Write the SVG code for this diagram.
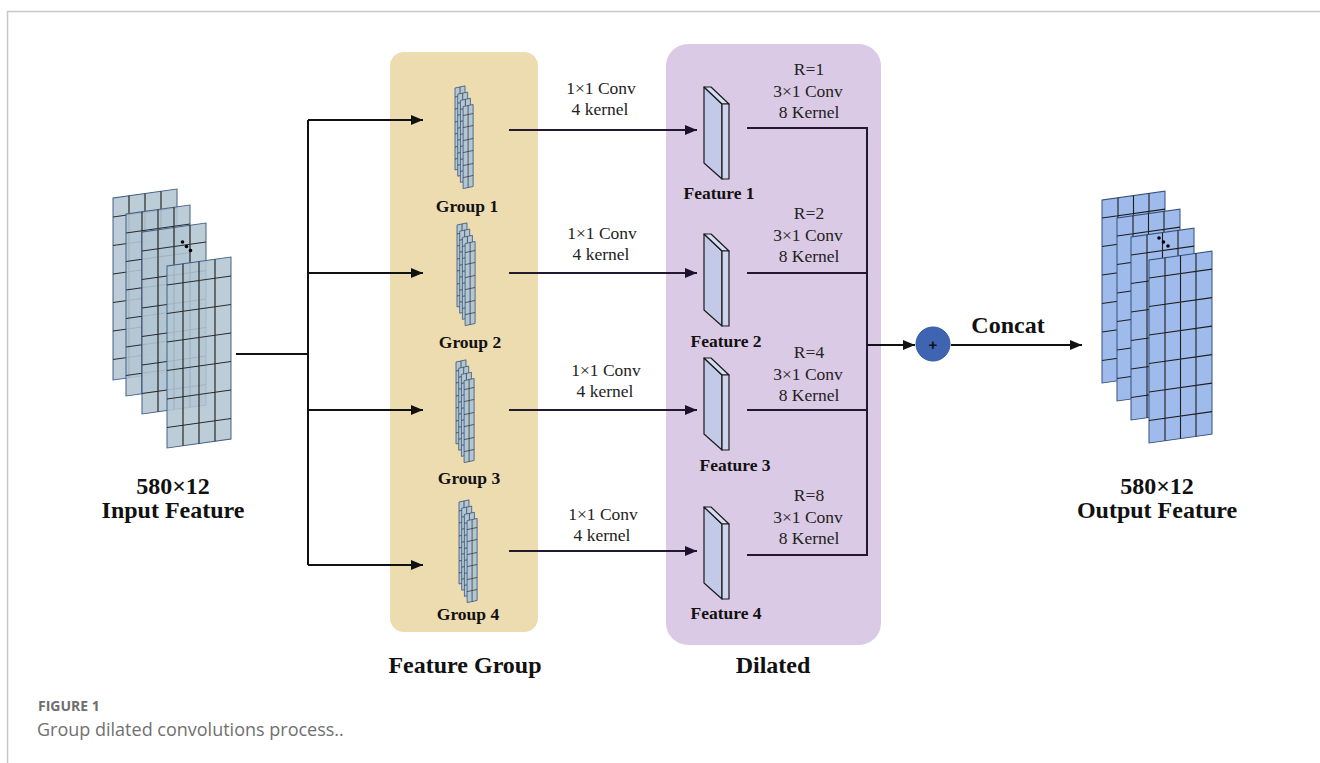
<svg xmlns="http://www.w3.org/2000/svg" width="1320" height="763" viewBox="0 0 1320 763">
<style>
.lbl{font-family:"Liberation Serif","Times New Roman",serif;font-weight:bold;fill:#111;text-anchor:middle}
.big{font-size:24px}
.med{font-size:17.5px}
.reg{font-family:"Liberation Serif","Times New Roman",serif;font-size:17.5px;fill:#222;text-anchor:middle}
.ln{fill:none;stroke:#111;stroke-width:2}
.dl{fill:none;stroke:#22182f;stroke-width:2}
.inS rect{fill:#b3c6d3;fill-opacity:0.88;stroke:#44608a;stroke-width:1}
.inS path{stroke:#2a2a2a;stroke-width:1.2;fill:none}
.outS rect{fill:#9fbbeb;stroke:#34507a;stroke-width:1}
.outS path{stroke:#1e1e1e;stroke-width:1.1;fill:none}
.gS rect{fill:#b3c6d3;stroke:#3d5a80;stroke-width:0.8}
.gS path{stroke:#333;stroke-width:0.7;fill:none}
.slab path{stroke:#1a1a1a;stroke-width:1.2;stroke-linejoin:round}
</style>
<defs>
<marker id="ah" viewBox="0 0 12 10" refX="12" refY="5" markerWidth="12" markerHeight="10" markerUnits="userSpaceOnUse" orient="auto"><path d="M0,0 L12,5 L0,10 z" fill="#111"/></marker>
<marker id="ahd" viewBox="0 0 12 10" refX="12" refY="5" markerWidth="12" markerHeight="10" markerUnits="userSpaceOnUse" orient="auto"><path d="M0,0 L12,5 L0,10 z" fill="#1c1230"/></marker>
<g id="inSheet" class="inS"><rect x="0" y="0" width="64" height="182"/><path d="M16,0V182M32,0V182M48,0V182M0,19H64M0,47.5H64M0,76H64M0,104.5H64M0,133H64M0,161.5H64"/></g>
<g id="outSheet" class="outS"><rect x="0" y="0" width="63" height="183"/><path d="M16,0V183M31.5,0V183M47,0V183M0,18H63M0,46.5H63M0,75H63M0,103.5H63M0,132H63M0,160.5H63"/></g>
<g id="gSheet" class="gS"><rect x="0" y="0" width="10" height="82"/><path d="M5,0V82M0,9H10M0,21H10M0,34H10M0,46H10M0,59H10M0,71H10"/></g>
<g id="gStack"><use href="#gSheet" transform="translate(0,0) skewY(-12)"/><use href="#gSheet" transform="translate(2.7,6.2) skewY(-12)"/><use href="#gSheet" transform="translate(5.4,12.4) skewY(-12)"/><use href="#gSheet" transform="translate(8.1,18.6) skewY(-12)"/></g>
<g id="slabShape" class="slab"><path d="M0,0 L18,17 L18,92 L0,76 Z" fill="#c3cae8"/><path d="M0,0 L7,0 L25,17 L18,17 Z" fill="#d6dcf2"/><path d="M18,17 L25,17 L25,92 L18,92 Z" fill="#ccd4ee"/></g>
</defs>
<rect width="1320" height="763" fill="#fff"/>
<path d="M7.5,763 V11.5 H1320" fill="none" stroke="#c8c8c8" stroke-width="1.5"/>

<g id="panel-feature-group"><rect x="390" y="52" width="148" height="580" rx="14" fill="#eedcb1"/></g>
<g id="panel-dilated"><rect x="666" y="44" width="215" height="601" rx="22" fill="#dbcae5"/></g>

<g id="input-feature">
<use href="#inSheet" transform="translate(113,198) skewY(-8)"/>
<use href="#inSheet" transform="translate(126,214) skewY(-8)"/>
<use href="#inSheet" transform="translate(142,232) skewY(-8)"/>
<circle cx="182.5" cy="242" r="1.8" fill="#000"/><circle cx="186.5" cy="246.5" r="1.8" fill="#000"/><circle cx="190.5" cy="250.5" r="1.8" fill="#000"/>
<use href="#inSheet" transform="translate(167,266) skewY(-8)"/>
<text class="lbl big" x="173" y="494">580×12</text>
<text class="lbl big" x="173" y="518">Input Feature</text>
</g>

<g id="output-feature">
<use href="#outSheet" transform="translate(1102,200) skewY(-8)"/>
<use href="#outSheet" transform="translate(1117,218) skewY(-8)"/>
<use href="#outSheet" transform="translate(1131,237) skewY(-8)"/>
<circle cx="1159" cy="238" r="1.8" fill="#000"/><circle cx="1163.5" cy="242" r="1.8" fill="#000"/><circle cx="1168" cy="246" r="1.8" fill="#000"/>
<use href="#outSheet" transform="translate(1149,260) skewY(-8)"/>
<text class="lbl big" x="1157" y="494">580×12</text>
<text class="lbl big" x="1157" y="518">Output Feature</text>
</g>

<g id="group1"><use href="#gStack" transform="translate(455,88)"/><text class="lbl med" x="467" y="212">Group 1</text></g>
<g id="group2"><use href="#gStack" transform="translate(457,225)"/><text class="lbl med" x="470" y="348">Group 2</text></g>
<g id="group3"><use href="#gStack" transform="translate(456,362)"/><text class="lbl med" x="469" y="484">Group 3</text></g>
<g id="group4"><use href="#gStack" transform="translate(459,502)"/><text class="lbl med" x="468" y="620">Group 4</text></g>

<g id="feature1"><use href="#slabShape" transform="translate(704,87)"/><text class="lbl med" x="719" y="199">Feature 1</text></g>
<g id="feature2"><use href="#slabShape" transform="translate(704,234)"/><text class="lbl med" x="726" y="347">Feature 2</text></g>
<g id="feature3"><use href="#slabShape" transform="translate(704,358)"/><text class="lbl med" x="735" y="471">Feature 3</text></g>
<g id="feature4"><use href="#slabShape" transform="translate(704,507)"/><text class="lbl med" x="726" y="619">Feature 4</text></g>

<g id="concat-node"><circle cx="933" cy="344" r="17" fill="#3f65b2" stroke="#34589f" stroke-width="1"/><text x="933" y="349.5" font-family="Liberation Sans,Arial,sans-serif" font-weight="bold" font-size="15" text-anchor="middle" fill="#111">+</text></g>

<g id="connectors">
<path class="ln" d="M236,354 H308"/>
<path class="ln" d="M308,120 V565"/>
<path class="ln" d="M308,120 H423" marker-end="url(#ah)"/>
<path class="ln" d="M308,273 H423" marker-end="url(#ah)"/>
<path class="ln" d="M308,410 H423" marker-end="url(#ah)"/>
<path class="ln" d="M308,565 H423" marker-end="url(#ah)"/>
<path class="dl" d="M509,130 H697" marker-end="url(#ahd)"/>
<path class="dl" d="M509,273 H697" marker-end="url(#ahd)"/>
<path class="dl" d="M509,410 H697" marker-end="url(#ahd)"/>
<path class="dl" d="M509,551 H697" marker-end="url(#ahd)"/>
<path class="dl" d="M747,128 H867 V555 H747"/>
<path class="dl" d="M747,273 H867"/>
<path class="dl" d="M747,410 H867"/>
<path class="ln" d="M867,345 H915" marker-end="url(#ah)"/>
<path class="ln" d="M951,345 H1082" marker-end="url(#ah)"/>
</g>

<g id="labels">
<text class="reg" x="601" y="94">1×1 Conv</text><text class="reg" x="600" y="115">4 kernel</text>
<text class="reg" x="602" y="239">1×1 Conv</text><text class="reg" x="601" y="260">4 kernel</text>
<text class="reg" x="606" y="376">1×1 Conv</text><text class="reg" x="605" y="397">4 kernel</text>
<text class="reg" x="603" y="520">1×1 Conv</text><text class="reg" x="602" y="541">4 kernel</text>
<text class="reg" x="809" y="75">R=1</text><text class="reg" x="808" y="97">3×1 Conv</text><text class="reg" x="809" y="118">8 Kernel</text>
<text class="reg" x="809" y="219">R=2</text><text class="reg" x="808" y="241">3×1 Conv</text><text class="reg" x="809" y="262">8 Kernel</text>
<text class="reg" x="809" y="358">R=4</text><text class="reg" x="808" y="380">3×1 Conv</text><text class="reg" x="809" y="401">8 Kernel</text>
<text class="reg" x="809" y="501">R=8</text><text class="reg" x="808" y="523">3×1 Conv</text><text class="reg" x="809" y="544">8 Kernel</text>
<text class="lbl big" x="1008" y="333">Concat</text>
<text class="lbl big" x="465" y="673">Feature Group</text>
<text class="lbl big" x="773" y="673">Dilated</text>
</g>

<g id="caption">
<text x="38" y="711" font-family="Open Sans,Liberation Sans,sans-serif" font-weight="bold" font-size="14" fill="#6e6e6e">FIGURE 1</text>
<text x="37" y="736" font-family="Open Sans,Liberation Sans,sans-serif" font-size="18" fill="#707070">Group dilated convolutions process..</text>
</g>
</svg>
